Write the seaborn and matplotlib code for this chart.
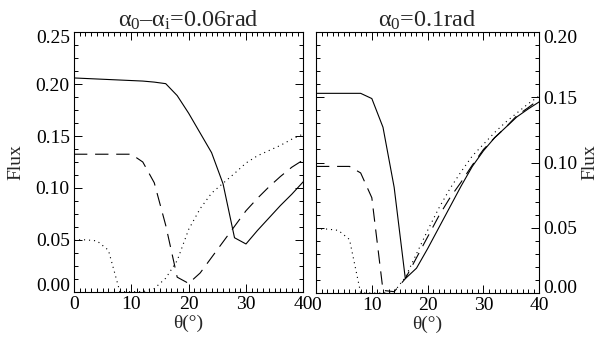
import numpy as np
import pandas as pd
import matplotlib
matplotlib.use("Agg")
import matplotlib.pyplot as plt
import matplotlib.transforms as mtransforms
import seaborn as sns
from matplotlib.ticker import MultipleLocator

# ---- data ----
theta = [0, 2, 4, 6, 8, 10, 12, 14, 16, 18, 20, 22, 24, 26, 28, 30, 32, 34, 36, 38, 40]

# left panel: alpha0 - alphai = 0.06 rad
left_solid = [0.206, 0.2055, 0.205, 0.2045, 0.204, 0.2035, 0.203, 0.202, 0.2005, 0.189, 0.172,
              0.153, 0.134, 0.104, 0.052, 0.046, 0.059, 0.071, 0.083, 0.094, 0.106]
left_dashed = [0.1325, 0.1325, 0.1325, 0.1325, 0.1325, 0.1325, 0.125, 0.105, 0.064, 0.014, 0.008,
               0.018, 0.033, 0.048, 0.063, 0.078, 0.090, 0.101, 0.111, 0.120, 0.127]
left_dotted = [0.050, 0.050, 0.049, 0.040, 0.000, 0.000, 0.000, 0.003, 0.013, 0.030, 0.060,
               0.080, 0.095, 0.1045, 0.114, 0.124, 0.131, 0.136, 0.141, 0.147, 0.152]

# right panel: alpha0 = 0.1 rad
right_solid = [0.153, 0.153, 0.153, 0.153, 0.153, 0.149, 0.127, 0.081, 0.011, 0.019, 0.034,
               0.050, 0.066, 0.082, 0.097, 0.109, 0.119, 0.127, 0.135, 0.141, 0.1465]
right_dashed = [0.097, 0.097, 0.097, 0.097, 0.092, 0.073, 0.002, 0.001, 0.011, 0.027, 0.043,
                0.059, 0.073, 0.085, 0.098, 0.110, 0.119, 0.127, 0.136, 0.142, 0.1485]
right_dotted = [0.049, 0.049, 0.048, 0.041, 0.000, 0.000, 0.000, 0.001, 0.012, 0.030, 0.048,
                0.065, 0.080, 0.093, 0.105, 0.114, 0.123, 0.131, 0.138, 0.145, 0.151]

titles = [r"$\alpha_0$–$\alpha_{\rm i}$=0.06rad", r"$\alpha_0$=0.1rad"]
xticks = [0, 10, 20, 30, 40]
left_yticks = [0.00, 0.05, 0.10, 0.15, 0.20, 0.25]
right_yticks = [0.00, 0.05, 0.10, 0.15, 0.20]

sns.set_style("ticks")
plt.rcParams["font.family"] = ["Liberation Serif", "DejaVu Serif"]
plt.rcParams["mathtext.fontset"] = "custom"
plt.rcParams["mathtext.rm"] = "Liberation Serif"
plt.rcParams["mathtext.it"] = "Liberation Serif"
plt.rcParams["mathtext.bf"] = "Liberation Serif:bold"

fig = plt.figure(figsize=(6.0, 3.43), dpi=100)
W, H = 600, 343
ax1 = fig.add_axes([74 / W, (H - 291.7) / H, (303.3 - 74) / W, (291.7 - 32.3) / H])
ax2 = fig.add_axes([316 / W, (H - 293) / H, 223.3 / W, 261 / H])

styles = {"solid": "-", "dashed": (0, (12, 7)), "dotted": (0, (1, 3.5))}

def draw(ax, s, d, o):
    df = pd.DataFrame({"theta": theta * 3,
                       "flux": s + d + o,
                       "kind": ["solid"] * len(theta) + ["dashed"] * len(theta) + ["dotted"] * len(theta)})
    for kind in ["solid", "dashed", "dotted"]:
        sub = df[df["kind"] == kind]
        sns.lineplot(data=sub, x="theta", y="flux", ax=ax, color="black",
                     lw=0.8, linestyle=styles[kind], legend=False)

draw(ax1, left_solid, left_dashed, left_dotted)
draw(ax2, right_solid, right_dashed, right_dotted)

FS = 14
for ax, yt, ymax, ymin_step, title in [(ax1, left_yticks, 0.25, 0.0125, titles[0]),
                                       (ax2, right_yticks, 0.20, 0.01, titles[1])]:
    ax.set_xlim(0, 40)
    ax.set_ylim(0, ymax)
    ax.set_xticks(xticks)
    ax.set_xticklabels([str(t) for t in xticks])
    ax.set_yticks(yt)
    ax.set_yticklabels([f"{v:.2f}" for v in yt])
    ax.xaxis.set_minor_locator(MultipleLocator(1))
    ax.yaxis.set_minor_locator(MultipleLocator(ymin_step))
    ax.tick_params(which="both", direction="in", top=True, bottom=True, left=True, right=True,
                   width=0.7, colors="black", labelsize=FS, pad=3)
    ax.tick_params(which="major", length=6)
    ax.tick_params(which="minor", length=3)
    for sp in ax.spines.values():
        sp.set_visible(True)
        sp.set_linewidth(0.8)
        sp.set_color("black")
    ax.set_xlabel("θ(°)", fontsize=FS, labelpad=1)
    ax.set_title(title, fontsize=17.5, pad=3)

ax1.set_ylabel("Flux", fontsize=FS, labelpad=8)
ax2.yaxis.set_label_position("right")
ax2.tick_params(axis="y", which="both", labelleft=False, labelright=True)
ax2.set_ylabel("Flux", fontsize=FS, labelpad=3)

# nudge the end y tick labels inward, as in the reference
up = mtransforms.ScaledTranslation(0, 5 / 72, fig.dpi_scale_trans)
down = mtransforms.ScaledTranslation(0, -3 / 72, fig.dpi_scale_trans)
for ax in (ax1, ax2):
    ticks = ax.yaxis.get_major_ticks()
    for lab in (ticks[0].label1, ticks[0].label2):
        lab.set_transform(lab.get_transform() + up)
    for lab in (ticks[-1].label1, ticks[-1].label2):
        lab.set_transform(lab.get_transform() + down)

fig.savefig("out.png", dpi=100, facecolor="white")
